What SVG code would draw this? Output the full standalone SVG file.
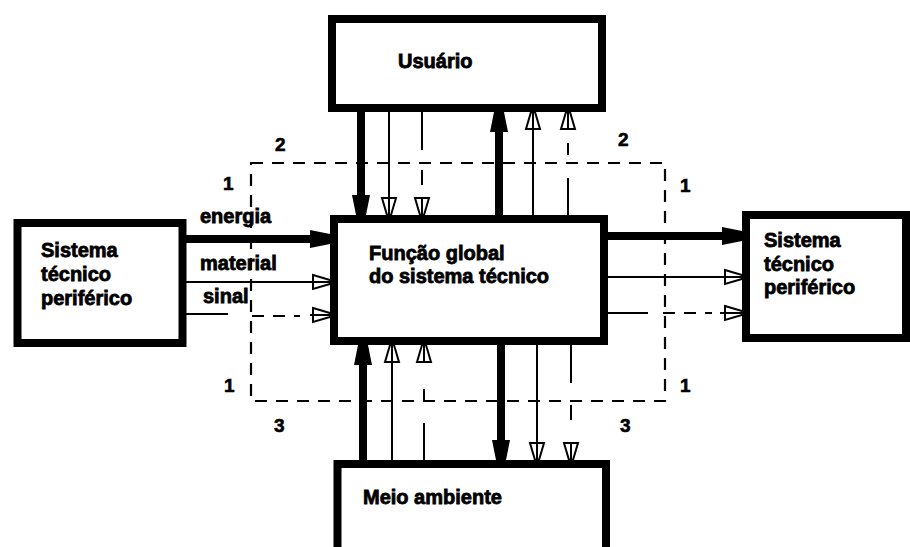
<svg xmlns="http://www.w3.org/2000/svg" width="910" height="547" viewBox="0 0 910 547">
  <style>
    .box { fill: #fff; stroke: #000; stroke-width: 8; }
    .lbl { font-family: "Liberation Sans", Arial, sans-serif; font-weight: bold; font-size: 20px; fill: #000; stroke: #000; stroke-width: 0.8; }
    .num { font-family: "Liberation Sans", Arial, sans-serif; font-weight: bold; font-size: 19px; fill: #000; stroke: #000; stroke-width: 0.6; }
    .thick { stroke: #000; stroke-width: 8; fill: none; }
    .thin { stroke: #000; stroke-width: 2; fill: none; }
    .dash { stroke: #000; stroke-width: 2.2; fill: none; stroke-dasharray: 12 9; }
  </style>
  <defs>
    <!-- blunt filled head for energy flows -->
    <marker id="headFilled" viewBox="-1 -10 22 20" refX="20" refY="0" markerWidth="22" markerHeight="20" markerUnits="userSpaceOnUse" orient="auto">
      <path d="M0,-9 L20,-5 L20,5 L0,9 Z" fill="#000"/>
    </marker>
    <!-- open head for material and signal flows -->
    <marker id="headOpen" viewBox="-2 -10 22 20" refX="17" refY="0" markerWidth="22" markerHeight="20" markerUnits="userSpaceOnUse" orient="auto">
      <path d="M0,-7 L17,-2 L17,2 L0,7 Z" fill="none" stroke="#000" stroke-width="2"/>
    </marker>
  </defs>

  <!-- system boundary -->
  <g id="boundary">
    <rect x="251" y="163" width="414" height="238" class="dash"/>
  </g>

  <g id="connectors">
    <!-- Usuário <-> Função global -->
    <line x1="361" y1="112" x2="361" y2="215" class="thick" marker-end="url(#headFilled)"/>
    <line x1="389" y1="112" x2="389" y2="215" class="thin" marker-end="url(#headOpen)"/>
    <line x1="422" y1="112" x2="422" y2="150" class="thin"/>
    <line x1="422" y1="170" x2="422" y2="185" class="thin"/>
    <line x1="422" y1="199" x2="422" y2="215" class="thin" marker-end="url(#headOpen)"/>
    <line x1="499" y1="215" x2="499" y2="112" class="thick" marker-end="url(#headFilled)"/>
    <line x1="533" y1="215" x2="533" y2="112" class="thin" marker-end="url(#headOpen)"/>
    <line x1="568" y1="215" x2="568" y2="178" class="thin"/>
    <line x1="568" y1="155" x2="568" y2="143" class="thin"/>
    <line x1="568" y1="128" x2="568" y2="112" class="thin" marker-end="url(#headOpen)"/>

    <!-- Meio ambiente <-> Função global -->
    <line x1="363" y1="460" x2="363" y2="345" class="thick" marker-end="url(#headFilled)"/>
    <line x1="392" y1="460" x2="392" y2="345" class="thin" marker-end="url(#headOpen)"/>
    <line x1="424" y1="460" x2="424" y2="423" class="thin"/>
    <line x1="424" y1="400" x2="424" y2="389" class="thin"/>
    <line x1="424" y1="362" x2="424" y2="345" class="thin" marker-end="url(#headOpen)"/>
    <line x1="501" y1="345" x2="501" y2="460" class="thick" marker-end="url(#headFilled)"/>
    <line x1="537" y1="345" x2="537" y2="460" class="thin" marker-end="url(#headOpen)"/>
    <line x1="571" y1="345" x2="571" y2="383" class="thin"/>
    <line x1="571" y1="405" x2="571" y2="420" class="thin"/>
    <line x1="571" y1="443" x2="571" y2="460" class="thin" marker-end="url(#headOpen)"/>

    <!-- inputs from the peripheral system -->
    <line x1="186" y1="239" x2="330" y2="239" class="thick" marker-end="url(#headFilled)"/>
    <line x1="186" y1="282" x2="330" y2="282" class="thin" marker-end="url(#headOpen)"/>
    <line x1="186" y1="314" x2="228" y2="314" class="thin"/>
    <line x1="252" y1="316" x2="300" y2="316" class="dash"/>
    <line x1="310" y1="315" x2="330" y2="315" class="thin" marker-end="url(#headOpen)"/>

    <!-- outputs to the peripheral system -->
    <line x1="608" y1="236" x2="742" y2="236" class="thick" marker-end="url(#headFilled)"/>
    <line x1="608" y1="277" x2="742" y2="277" class="thin" marker-end="url(#headOpen)"/>
    <line x1="608" y1="313" x2="648" y2="313" class="thin"/>
    <line x1="663" y1="313" x2="712" y2="313" class="dash"/>
    <line x1="720" y1="313" x2="742" y2="313" class="thin" marker-end="url(#headOpen)"/>
  </g>

  <g id="usuario">
    <rect x="332" y="19" width="270" height="89" class="box"/>
    <text x="398" y="68" class="lbl" font-size="21">Usuário</text>
  </g>

  <g id="funcao-global">
    <rect x="334" y="219" width="270" height="122" class="box"/>
    <text x="369" y="260" class="lbl" font-size="20.5">Função global</text>
    <text x="369" y="283" class="lbl" font-size="20.5">do sistema técnico</text>
  </g>

  <g id="sistema-entrada">
    <rect x="17.5" y="223" width="165" height="120" class="box"/>
    <text x="41" y="257" class="lbl">Sistema</text>
    <text x="41" y="281" class="lbl">técnico</text>
    <text x="41" y="305" class="lbl">periférico</text>
  </g>

  <g id="sistema-saida">
    <rect x="746" y="215" width="160" height="123" class="box"/>
    <text x="764" y="247" class="lbl">Sistema</text>
    <text x="764" y="271" class="lbl">técnico</text>
    <text x="764" y="294" class="lbl">periférico</text>
  </g>

  <g id="meio-ambiente">
    <rect x="337.5" y="464" width="268.5" height="100" class="box"/>
    <text x="363" y="504" class="lbl" font-size="20.8">Meio ambiente</text>
  </g>

  <g id="flow-labels">
    <text x="200" y="223" class="lbl">energia</text>
    <text x="200" y="270" class="lbl">material</text>
    <text x="203" y="303" class="lbl">sinal</text>
  </g>

  <g id="numbers">
    <text x="275" y="151" class="num">2</text>
    <text x="618" y="146" class="num">2</text>
    <text x="223" y="190" class="num">1</text>
    <text x="680" y="192" class="num">1</text>
    <text x="224" y="392" class="num">1</text>
    <text x="680" y="392" class="num">1</text>
    <text x="274" y="432" class="num">3</text>
    <text x="620" y="432" class="num">3</text>
  </g>
</svg>
